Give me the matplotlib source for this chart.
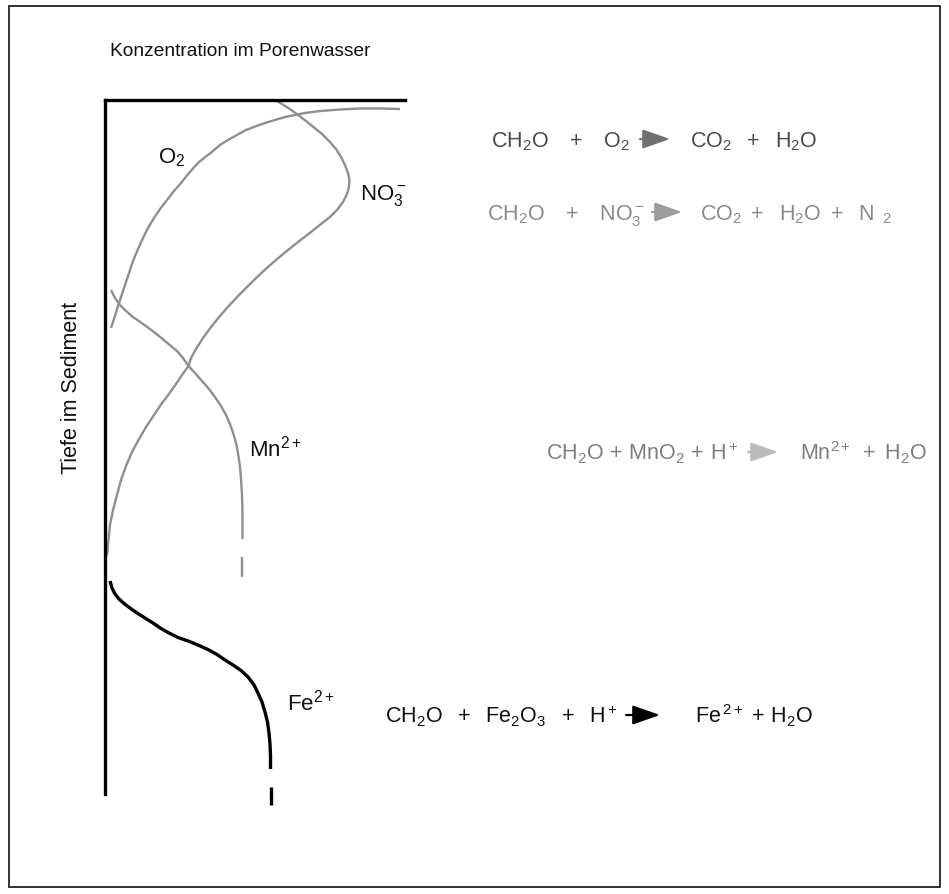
import matplotlib
matplotlib.use('Agg')
import matplotlib.pyplot as plt
from matplotlib.patches import Rectangle

plt.rcParams['font.family'] = ['Liberation Sans', 'DejaVu Sans']
plt.rcParams['mathtext.fontset'] = 'custom'
plt.rcParams['mathtext.rm'] = 'Liberation Sans'
plt.rcParams['mathtext.it'] = 'Liberation Sans:italic'
plt.rcParams['mathtext.bf'] = 'Liberation Sans:bold'

# ---------------- data (relative concentration 0-100, relative depth 0-100) ----------------
TITLE = 'Konzentration im Porenwasser'
YLABEL = 'Tiefe im Sediment'

O2_CONC = [98.33, 91.67, 85.00, 78.33, 71.67, 66.67, 63.33, 60.00, 56.67, 53.33, 50.00,
           46.67, 43.67, 41.00, 38.33, 36.00, 33.67, 31.33, 29.33, 27.33, 25.33, 23.00,
           20.67, 18.33, 16.33, 14.33, 12.67, 11.00, 9.33, 8.00, 6.67, 5.33, 4.00, 3.00, 2.00]
O2_DEPTH = [1.30, 1.22, 1.22, 1.37, 1.59, 1.87, 2.16, 2.45, 2.88, 3.31, 3.82,
            4.39, 5.12, 5.76, 6.48, 7.35, 8.14, 8.93, 9.87, 10.88, 11.96, 13.11,
            14.41, 15.71, 17.00, 18.44, 19.88, 21.47, 23.20, 24.93, 26.66, 28.39, 30.12, 31.56, 32.85]

NO3_CONC = [56.67, 59.00, 61.67, 64.33, 67.00, 69.67, 72.33, 74.67, 77.00, 78.67, 80.00,
            81.00, 81.50, 81.33, 80.67, 79.33, 77.33, 75.00, 72.00, 68.67, 65.00, 61.00,
            57.00, 53.00, 49.00, 45.33, 41.67, 38.33, 35.33, 32.67, 30.33, 28.67, 27.83,
            25.67, 23.67, 21.33, 19.00, 16.33, 13.67, 11.33, 9.00, 7.00, 5.33, 4.00,
            2.67, 1.67, 1.17, 0.67]
NO3_DEPTH = [0.00, 0.58, 1.30, 2.16, 3.03, 3.96, 4.90, 5.91, 7.06, 8.21, 9.37,
             10.52, 11.53, 12.54, 13.54, 14.70, 15.85, 16.86, 17.87, 19.02, 20.24, 21.61,
             23.05, 24.57, 26.22, 27.81, 29.47, 31.12, 32.71, 34.29, 35.88, 37.18, 38.33,
             39.63, 40.92, 42.36, 43.66, 45.39, 47.12, 48.85, 50.72, 52.74, 54.76, 56.92,
             59.08, 61.24, 63.40, 65.56]

MN_CONC = [2.00, 3.33, 5.00, 7.00, 9.33, 12.00, 15.00, 18.00, 21.00, 24.00, 26.00, 27.83,
           30.00, 32.33, 34.67, 36.67, 38.67, 40.33, 41.67, 42.83, 43.83, 44.50, 45.00,
           45.33, 45.60, 45.77, 45.83, 45.83]
MN_DEPTH = [27.38, 28.53, 29.54, 30.40, 31.27, 32.06, 33.00, 34.01, 35.09, 36.17, 37.18, 38.33,
            39.34, 40.49, 41.64, 42.80, 44.09, 45.39, 46.69, 48.13, 49.71, 51.30, 52.88,
            54.61, 56.34, 58.21, 60.37, 63.26]
MN_DASH_CONC = [45.83, 45.83]
MN_DASH_DEPTH = [65.85, 68.73]

FE_CONC = [1.67, 2.33, 3.33, 4.67, 6.33, 8.33, 10.67, 13.33, 16.00, 18.67, 21.33, 24.33,
           27.67, 31.00, 34.33, 37.33, 40.00, 42.67, 45.33, 47.67, 49.67, 51.00, 52.33,
           53.33, 54.17, 54.67, 55.00, 55.17, 55.17]
FE_DEPTH = [69.31, 70.32, 71.18, 71.90, 72.55, 73.20, 73.92, 74.64, 75.36, 76.15, 76.80, 77.45,
            77.95, 78.53, 79.18, 79.90, 80.69, 81.41, 82.20, 83.14, 84.29, 85.45, 86.74,
            88.18, 89.63, 91.21, 92.80, 94.52, 96.40]
FE_DASH_CONC = [55.17, 55.17]
FE_DASH_DEPTH = [98.99, 101.59]

SPECIES_LABELS = [r'$\mathregular{O_2}$', r'$\mathregular{NO_3^-}$',
                  r'$\mathregular{Mn^{2+}}$', r'$\mathregular{Fe^{2+}}$']

EQ_LEFT = [r'$\mathregular{CH_2O\ \ \ +\ \ \ O_2}$',
           r'$\mathregular{CH_2O\ \ \ +\ \ \ NO_3^-}$',
           r'$\mathregular{CH_2O\,+\,MnO_2\,+\,H^+}$',
           r'$\mathregular{CH_2O\ \ +\ \ Fe_2O_3\ \ +\ \ H^+}$']
EQ_RIGHT = [r'$\mathregular{CO_2\ \ +\ \ H_2O}$',
            r'$\mathregular{CO_2\ +\ \ H_2O\ +\ \ N_{\ \ 2}}$',
            r'$\mathregular{Mn^{2+}\ +\ H_2O}$',
            r'$\mathregular{Fe^{\,2+}\,+\,H_2O}$']
EQ_TEXT_COLORS = ['#4a4a4a', '#8a8a8a', '#7e7e7e', '#111111']
EQ_ARROW_COLORS = ['#707070', '#9c9c9c', '#bcbcbc', '#000000']

# ---------------- figure ----------------
W, H = 949, 895
fig = plt.figure(figsize=(W / 100, H / 100), dpi=100)
fig.patch.set_facecolor('white')

# overlay in pixel coordinates for frame, title and equations
ov = fig.add_axes([0, 0, 1, 1], zorder=0)
ov.set_xlim(0, W)
ov.set_ylim(H, 0)
ov.axis('off')
ov.add_patch(Rectangle((9, 7), 931, 881, fill=False, lw=1.3, edgecolor='#222222'))

# main depth-profile axes
L, T, R, B = 105, 101, 405, 795
ax = fig.add_axes([L / W, 1 - B / H, (R - L) / W, (B - T) / H], zorder=2)
ax.patch.set_alpha(0)
ax.set_xlim(0, 100)
ax.set_ylim(100, 0)
for s in ['right', 'bottom']:
    ax.spines[s].set_visible(False)
for s in ['top', 'left']:
    ax.spines[s].set_linewidth(2.4)
    ax.spines[s].set_color('black')
ax.set_xticks([])
ax.set_yticks([])

gray = '#8f8f8f'
kw = dict(solid_capstyle='butt', clip_on=False)
ax.plot(O2_CONC, O2_DEPTH, color=gray, lw=1.7, **kw)
ax.plot(NO3_CONC, NO3_DEPTH, color=gray, lw=1.7, **kw)
ax.plot(MN_CONC, MN_DEPTH, color=gray, lw=1.7, **kw)
ax.plot(MN_DASH_CONC, MN_DASH_DEPTH, color=gray, lw=1.7, **kw)
ax.plot(FE_CONC, FE_DEPTH, color='black', lw=2.4, **kw)
ax.plot(FE_DASH_CONC, FE_DASH_DEPTH, color='black', lw=2.4, **kw)

# title and y label
ov.text(110, 56, TITLE, fontsize=13.8, ha='left', va='baseline', color='#111111')
ov.text(72, 388, YLABEL, fontsize=15.5, rotation=90, ha='center', va='center', color='#111111')

# species labels
label_pos = [(158, 163), (360, 200), (249, 457), (287, 710)]
for (x, y), t in zip(label_pos, SPECIES_LABELS):
    ov.text(x, y, t, fontsize=16, ha='left', va='baseline', color='#111111')

# reaction equations: (baseline, left-part right edge, arrow start, arrow end, right-part left edge)
eq_layout = [(147, 630, 640, 670, 690),
             (220, 644, 652, 682, 700),
             (460, 738, 748, 778, 800),
             (723, 618, 626, 660, 695)]
for i, (yb, xl, xa0, xa1, xr) in enumerate(eq_layout):
    ov.text(xl, yb, EQ_LEFT[i], fontsize=15.5, ha='right', va='baseline', color=EQ_TEXT_COLORS[i])
    ov.text(xr, yb, EQ_RIGHT[i], fontsize=15.5, ha='left', va='baseline', color=EQ_TEXT_COLORS[i])
    ya = yb - 7
    ov.annotate('', xy=(xa1, ya), xytext=(xa0, ya),
                arrowprops=dict(arrowstyle='-|>,head_length=1.2,head_width=0.42',
                                color=EQ_ARROW_COLORS[i], lw=1.6, shrinkA=0, shrinkB=0,
                                mutation_scale=14))

fig.savefig('out.png', dpi=100, facecolor='white')
